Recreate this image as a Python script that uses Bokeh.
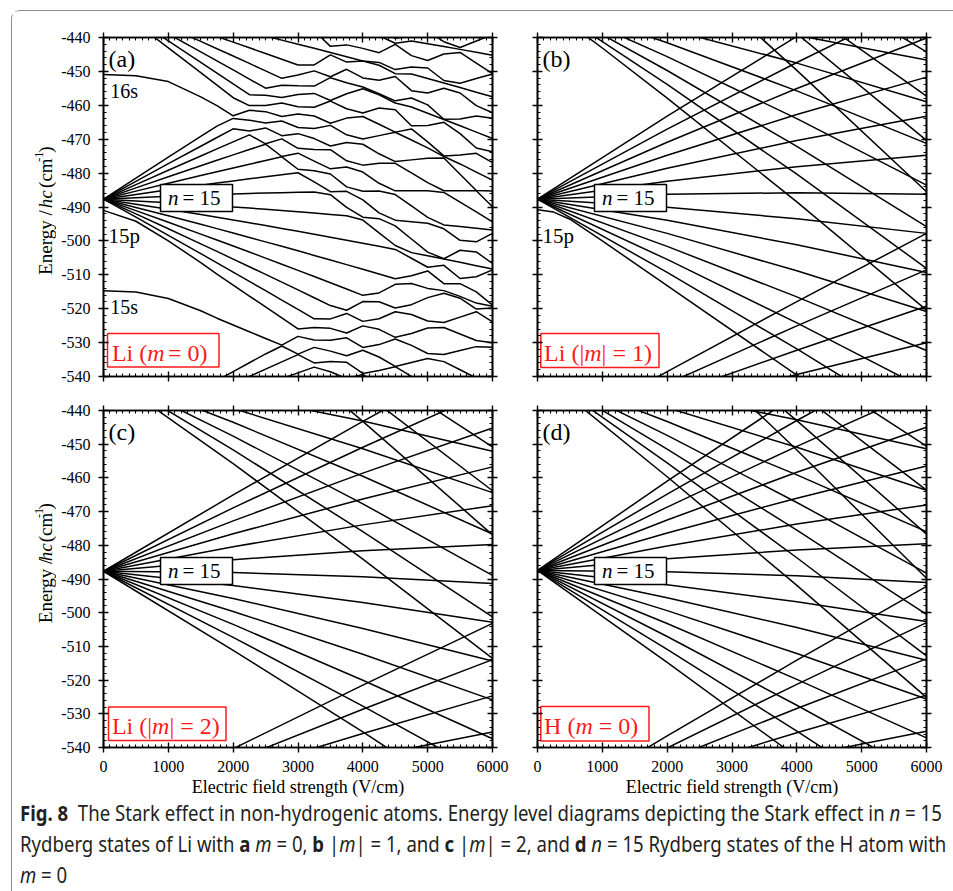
import math
from bokeh.plotting import figure
from bokeh.layouts import column, row
from bokeh.models import FixedTicker, LinearAxis, Range1d, Label, Div
from bokeh.embed import file_html
from bokeh.resources import INLINE

# ---------------------------------------------------------------- axes
field_ticks = [0, 1000, 2000, 3000, 4000, 5000, 6000]
energy_ticks = [-540, -530, -520, -510, -500, -490, -480, -470, -460, -450, -440]

# ------------------------------------------------ (a) Li, m = 0 (adiabatic levels)
li_m0_field = [0, 500, 1000, 1500, 1750, 2000, 2250, 2500, 2750, 3000, 3250,
               3500, 3750, 4000, 4250, 4500, 4750, 5000, 5250, 5500, 5750, 6000]

# levels coming down from n = 16 / n = 17, plus 16s
li_m0_upper = [
    [-379.7, -387.4, -395.1, -402.9, -406.86, -410.82, -414.79, -418.79, -422.81, -426.85, -430.91, -434.99, -437.97, -438.71, -438.10, -440.25, -439.60, -438.12, -441.25, -442.94, -441.04, -439.15],
    [-379.7, -388.5, -397.3, -406.3, -410.67, -415.17, -419.69, -424.24, -428.8, -433.38, -436.53, -437.24, -439.09, -439.23, -439.48, -441.71, -441.04, -441.84, -442.67, -443.50, -444.35, -445.21],
    [-428.6, -429.65, -430.77, -431.94, -432.55, -433.18, -433.82, -434.47, -435.14, -435.83, -437.99, -442.61, -442.18, -443.21, -444.47, -442.02, -445.35, -446.79, -444.87, -444.40, -447.57, -450.68],
    [-428.6, -430.68, -432.82, -435.02, -436.14, -437.27, -438.43, -439.59, -440.78, -441.97, -443.19, -444.41, -445.65, -446.91, -447.35, -449.47, -448.73, -449.0, -452.68, -453.51, -452.09, -450.76],
    [-428.6, -431.7, -434.87, -438.09, -439.73, -441.37, -443.04, -444.71, -446.41, -448.12, -448.10, -445.14, -447.25, -446.92, -448.18, -450.67, -450.77, -452.09, -453.42, -454.76, -456.13, -457.50],
    [-428.6, -432.73, -436.91, -441.16, -443.31, -445.47, -447.65, -449.84, -452.04, -451.08, -449.84, -451.58, -449.38, -451.92, -452.63, -451.51, -455.69, -456.39, -454.95, -456.37, -460.09, -462.20],
    [-428.6, -433.75, -438.96, -444.24, -446.90, -449.57, -452.26, -454.96, -454.07, -454.26, -454.34, -451.86, -453.34, -454.60, -456.6, -458.69, -457.85, -459.89, -464.11, -464.07, -463.13, -463.82],
    [-428.6, -434.78, -441.01, -447.31, -450.48, -453.66, -456.87, -457.07, -457.68, -456.84, -456.50, -458.58, -456.58, -455.10, -456.89, -459.31, -460.50, -462.33, -464.18, -466.03, -467.91, -469.79],
    [-428.6, -435.8, -443.06, -450.38, -454.07, -457.76, -460.08, -460.08, -459.35, -460.41, -460.58, -458.75, -461.02, -462.28, -460.79, -461.3, -466.03, -465.99, -465.03, -468.35, -472.61, -473.72],
    [-450.9, -451.3, -453.0, -457.5, -460.1, -463.10, -461.48, -461.87, -463.31, -462.60, -463.16, -465.30, -463.78, -463.30, -465.60, -467.91, -466.97, -470.77, -474.93, -474.63, -474.17, -476.89],
]

# the n = 15 fan
li_m0_fan = [
    [-487.7, -481.48, -475.31, -469.18, -466.13, -463.86, -464.40, -465.2, -464.63, -466.55, -466.82, -465.92, -468.70, -469.96, -468.95, -467.95, -470.23, -472.57, -475.12, -477.30, -479.69, -482.09],
    [-487.7, -482.44, -477.23, -472.07, -469.49, -466.94, -467.61, -466.67, -468.95, -468.36, -469.82, -472.02, -470.98, -471.49, -474.30, -476.60, -476.10, -475.60, -475.54, -480.32, -485.12, -485.25],
    [-487.7, -483.40, -479.15, -474.95, -472.86, -470.78, -468.72, -471.36, -469.91, -472.70, -473.06, -473.09, -476.38, -477.65, -477.12, -477.12, -479.96, -482.82, -485.20, -485.20, -485.22, -489.95],
    [-487.7, -484.36, -481.07, -477.83, -476.22, -474.63, -473.05, -471.47, -475.11, -474.13, -476.48, -478.75, -478.19, -479.69, -483.01, -485.24, -485.22, -485.20, -485.69, -488.57, -491.47, -494.38],
    [-487.7, -485.32, -482.99, -480.71, -479.58, -478.47, -477.37, -476.28, -475.20, -478.86, -479.31, -480.26, -484.07, -485.33, -485.28, -486.34, -489.69, -493.06, -495.28, -495.76, -496.26, -496.77],
    [-487.7, -486.28, -484.91, -483.59, -482.94, -482.31, -481.69, -481.08, -480.48, -479.89, -482.61, -485.47, -485.39, -487.88, -491.72, -493.88, -494.34, -494.80, -496.44, -499.83, -500.27, -497.79],
    [-487.7, -487.24, -486.83, -486.47, -486.30, -486.15, -486.01, -485.88, -485.76, -485.65, -485.55, -486.36, -490.11, -493.01, -493.44, -495.56, -499.43, -503.30, -505.26, -502.76, -503.25, -506.67],
    [-487.7, -488.2, -488.75, -489.35, -489.66, -489.99, -490.33, -490.68, -491.04, -491.41, -491.79, -492.19, -492.59, -493.86, -497.61, -501.36, -503.46, -504.40, -505.36, -506.33, -507.31, -508.30],
    [-487.7, -489.16, -490.67, -492.23, -493.02, -493.83, -494.65, -495.48, -496.32, -497.17, -498.03, -498.91, -499.79, -500.69, -501.60, -502.52, -505.11, -507.77, -507.20, -511.10, -510.57, -508.54],
    [-487.7, -490.12, -492.59, -495.11, -496.38, -497.67, -498.97, -500.28, -501.60, -502.93, -504.28, -505.64, -507.0, -508.38, -509.77, -511.17, -510.29, -508.86, -512.61, -512.62, -515.03, -518.96],
    [-487.7, -491.08, -494.51, -497.99, -499.74, -501.51, -503.29, -505.09, -506.89, -508.70, -510.52, -512.36, -514.20, -516.06, -515.35, -512.82, -512.59, -514.01, -514.67, -516.36, -518.35, -519.30],
    [-487.7, -492.04, -496.43, -500.87, -503.10, -505.36, -507.62, -509.89, -512.17, -514.46, -516.76, -519.08, -520.45, -517.90, -517.93, -519.81, -518.81, -516.74, -515.45, -516.89, -520.11, -519.82],
    [-487.7, -493.0, -498.35, -503.75, -506.47, -509.2, -511.94, -514.69, -517.45, -520.22, -523.0, -523.01, -521.40, -523.74, -522.97, -520.89, -521.71, -523.61, -524.09, -522.48, -520.88, -523.86],
]

# 15p, 15s and the levels coming up from n = 14
li_m0_lower = [
    [-491.0, -494.2, -500.0, -506.4, -509.83, -513.04, -516.26, -519.49, -522.73, -525.98, -525.58, -525.80, -527.17, -525.07, -526.09, -528.45, -527.32, -525.70, -525.53, -527.45, -529.39, -530.05],
    [-514.7, -515.1, -517.0, -520.6, -522.8, -524.8, -526.8, -528.8, -530.75, -528.16, -529.24, -529.29, -528.60, -531.42, -530.59, -528.95, -530.83, -533.21, -533.5, -532.34, -531.19, -531.34],
    [-559.8, -554.4, -549.1, -543.8, -541.19, -538.57, -535.95, -533.35, -531.0, -533.4, -531.41, -532.52, -533.89, -532.24, -534.25, -537.02, -535.84, -534.66, -535.61, -538.02, -540.44, -542.87],
    [-559.8, -555.3, -550.9, -546.5, -544.33, -542.15, -539.98, -537.83, -535.68, -533.54, -536.0, -535.56, -535.80, -539.11, -538.2, -537.10, -539.96, -542.82, -545.70, -548.58, -551.5, -554.4],
    [-559.8, -556.2, -552.7, -549.2, -547.46, -545.74, -544.02, -542.31, -540.61, -538.92, -537.24, -538.6, -540.61, -539.41, -542.42, -545.74, -549.08, -552.42, -555.8, -559.2, -562.5, -565.9],
]

# ------------------------------------------- (b)-(d): Stark levels vs field
stark_field = [0, 2000, 4000, 6000]

li_m1_n15 = [
    [-487.7, -463.21, -439.68, -417.12], [-487.7, -467.05, -447.37, -428.64],
    [-487.7, -470.89, -455.05, -440.16], [-487.7, -474.74, -462.73, -451.69],
    [-487.7, -478.58, -470.41, -463.21], [-487.7, -482.42, -478.10, -474.73],
    [-487.7, -486.26, -485.78, -486.26], [-487.7, -490.10, -493.46, -497.78],
    [-487.7, -493.94, -501.14, -509.31], [-487.7, -497.78, -508.83, -520.83],
    [-487.7, -501.62, -516.51, -532.35], [-487.7, -505.47, -524.19, -543.88],
    [-487.7, -509.31, -531.87, -555.40],
]
li_m1_n16 = [
    [-428.6, -433.34, -439.35, -446.65], [-428.6, -437.43, -447.55, -458.94],
    [-428.6, -441.53, -455.74, -471.23], [-428.6, -445.63, -463.94, -483.53],
    [-428.6, -449.73, -472.13, -495.82], [-428.6, -453.82, -480.33, -508.11],
]
li_m1_n17 = [
    [-379.7, -399.93, -421.44, -444.23], [-379.7, -404.28, -430.15, -457.29],
    [-379.7, -408.64, -438.86, -470.36], [-381.8, -415.1, -449.7, -485.5],
]
li_m1_n14 = [
    [-559.8, -538.57, -517.90, -497.79], [-559.8, -542.15, -525.07, -508.54],
    [-559.8, -545.74, -532.24, -519.30], [-559.8, -549.32, -539.41, -530.05],
]
li_m1_15p_field = [0, 250, 500, 1000, 2000, 4000, 6000]
li_m1_15p_energy = [-490.8, -491.5, -493.6, -500.0, -513.2, -539.6, -566.9]
li_m1_16p_field = [0, 500, 1000, 2000, 4000, 6000]
li_m1_16p_energy = [-431.2, -436.0, -443.1, -457.9, -488.5, -520.4]

li_m2_n15 = [
    [-487.7, -465.05, -443.21, -422.16], [-487.7, -468.89, -450.89, -433.68],
    [-487.7, -472.74, -458.57, -445.21], [-487.7, -476.58, -466.25, -456.73],
    [-487.7, -480.42, -473.94, -468.25], [-487.7, -484.26, -481.62, -479.78],
    [-487.7, -488.10, -489.30, -491.30], [-487.7, -491.94, -496.98, -502.82],
    [-487.7, -495.78, -504.66, -514.35], [-487.7, -499.62, -512.35, -525.87],
    [-487.7, -503.46, -520.03, -537.39], [-487.7, -507.31, -527.71, -548.92],
    [-487.7, -511.15, -535.39, -560.44],
]
li_m2_n16 = [
    [-428.6, -455.79, -484.10, -513.54], [-428.6, -451.69, -475.91, -501.24],
    [-428.6, -447.60, -467.71, -488.95], [-428.6, -443.50, -459.52, -476.66],
    [-428.6, -439.40, -451.33, -464.37], [-428.6, -435.31, -443.13, -452.08],
]
li_m2_n17 = [
    [-379.7, -410.82, -443.21, -476.89], [-379.7, -406.46, -434.50, -463.82],
    [-379.7, -402.11, -425.80, -450.76],
]
li_m2_n14 = [
    [-559.8, -540.36, -521.48, -503.16], [-559.8, -543.95, -528.65, -513.92],
    [-559.8, -547.53, -535.82, -524.68], [-559.8, -551.12, -542.99, -535.43],
]

h_m0_n15 = [
    [-487.46, -460.97, -435.28, -410.39], [-487.46, -464.81, -442.97, -421.92],
    [-487.46, -468.65, -450.65, -433.44], [-487.46, -472.50, -458.33, -444.97],
    [-487.46, -476.34, -466.01, -456.49], [-487.46, -480.18, -473.70, -468.01],
    [-487.46, -484.02, -481.38, -479.54], [-487.46, -487.86, -489.06, -491.06],
    [-487.46, -491.70, -496.74, -502.58], [-487.46, -495.54, -504.42, -514.11],
    [-487.46, -499.38, -512.11, -525.63], [-487.46, -503.22, -519.79, -537.15],
    [-487.46, -507.07, -527.47, -548.68], [-487.46, -510.91, -535.15, -560.20],
    [-487.46, -514.75, -542.83, -571.73],
]
h_m0_n16 = [
    [-428.43, -459.66, -491.89, -525.12], [-428.43, -455.56, -483.69, -512.83],
    [-428.43, -451.46, -475.50, -500.53], [-428.43, -447.37, -467.30, -488.24],
    [-428.43, -443.27, -459.11, -475.95], [-428.43, -439.17, -450.92, -463.66],
    [-428.43, -435.08, -442.72, -451.37],
]
h_m0_n17 = [
    [-379.51, -414.98, -451.73, -489.76], [-379.51, -410.63, -443.02, -476.70],
    [-379.51, -406.27, -434.31, -463.63], [-379.51, -401.92, -425.61, -450.57],
]
h_m0_n14 = [
    [-559.58, -536.56, -514.09, -492.19], [-559.58, -540.14, -521.26, -502.94],
    [-559.58, -543.73, -528.43, -513.70], [-559.58, -547.31, -535.60, -524.46],
    [-559.58, -550.90, -542.77, -535.21],
]

# ---------------------------------------------------------------- drawing
SERIF = "Liberation Serif"
FRAME_W = 389
RED = "#ff1a1a"
LIFT = 7      # px: baseline correction for annotation text
STRIP_W = 44  # width of the strip that carries the energy-axis title


def style_axis(ax, ticks, minor, labelled):
    ax.ticker = FixedTicker(ticks=ticks, minor_ticks=minor)
    ax.axis_line_width = 1.6
    ax.axis_line_color = "black"
    ax.major_tick_line_width = 1.4
    ax.minor_tick_line_width = 1.1
    ax.major_tick_line_color = "black"
    ax.minor_tick_line_color = "black"
    ax.major_tick_in = 5
    ax.major_tick_out = 5
    ax.minor_tick_in = 3
    ax.minor_tick_out = 0
    ax.major_label_text_font = SERIF
    ax.major_label_text_color = "black"
    if labelled:
        ax.major_label_overrides = {t: str(t) for t in ticks}
        ax.major_label_text_font_size = "16px"
        ax.major_label_standoff = 8
    else:
        ax.major_label_overrides = {t: "" for t in ticks}
        ax.major_label_text_font_size = "1px"
        ax.major_label_standoff = 0


def panel(frame_h, left, right, top, bottom, xlabels, ylabels):
    p = figure(frame_width=FRAME_W, frame_height=frame_h,
               x_range=Range1d(0, 6000), y_range=Range1d(-540, -440),
               output_backend="svg", toolbar_location=None,
               min_border_left=left, min_border_right=right,
               min_border_top=top, min_border_bottom=bottom)
    p.xgrid.visible = False
    p.ygrid.visible = False
    p.outline_line_color = "black"
    p.outline_line_width = 1.6
    x_minor = [v for v in range(0, 6001, 100) if v % 1000]
    y_minor = [v for v in range(-540, -439, 2) if v % 10]
    style_axis(p.xaxis[0], field_ticks, x_minor, xlabels)
    style_axis(p.yaxis[0], energy_ticks, y_minor, ylabels)
    if xlabels:
        ax = p.xaxis[0]
        ax.axis_label = "Electric field strength (V/cm)"
        ax.axis_label_text_font = SERIF
        ax.axis_label_text_font_style = "normal"
        ax.axis_label_text_font_size = "18px"
        ax.axis_label_text_color = "black"
        ax.axis_label_standoff = 2
    top_ax = LinearAxis()
    style_axis(top_ax, field_ticks, x_minor, False)
    p.add_layout(top_ax, "above")
    right_ax = LinearAxis()
    style_axis(right_ax, energy_ticks, y_minor, False)
    p.add_layout(right_ax, "right")
    return p


def draw_levels(p, field, levels):
    p.multi_line([field] * len(levels), levels, line_color="black",
                 line_width=1.5, line_join="round")


def px(frame_h, rx, ry):
    """Pixel offset inside the frame -> data coordinates."""
    return rx * 6000.0 / FRAME_W, -440.0 - ry * 100.0 / frame_h


def text(p, frame_h, rx, ry, s, size, color="black", style="normal"):
    x, y = px(frame_h, rx, ry - LIFT)
    p.add_layout(Label(x=x, y=y, text=s, text_font=SERIF, text_font_size=size,
                       text_font_style=style, text_color=color,
                       text_align="left", text_baseline="alphabetic"))


def box(p, frame_h, rx0, ry0, rx1, ry1, color):
    x0, y0 = px(frame_h, rx0, ry0)
    x1, y1 = px(frame_h, rx1, ry1)
    p.quad(left=[x0], right=[x1], top=[y0], bottom=[y1],
           fill_color="white", line_color=color, line_width=1.5)


def title_strip(height, centre_from_top):
    """Narrow canvas holding the upright 'Energy / hc (cm-1)' title."""
    s = figure(width=STRIP_W, height=height, x_range=Range1d(0, STRIP_W),
               y_range=Range1d(0, height), output_backend="svg",
               toolbar_location=None, min_border=0)
    s.axis.visible = False
    s.grid.visible = False
    s.outline_line_color = None
    bx = 33.0
    y0 = height - centre_from_top - 72.0
    half = math.pi / 2
    pieces = [(bx, 0.0, "Energy /", "19px", "normal"),
              (bx, 75.0, "hc", "19px", "italic"),
              (bx, 98.0, "(cm", "19px", "normal"),
              (bx - 7, 127.5, "-1", "12px", "normal"),
              (bx, 137.5, ")", "19px", "normal")]
    for x, dy, t, size, style in pieces:
        s.add_layout(Label(x=x, y=y0 + dy, text=t, text_font=SERIF,
                           text_font_size=size, text_font_style=style,
                           text_color="black", angle=half,
                           text_align="left", text_baseline="alphabetic"))
    return s


def n15_box(p, frame_h):
    box(p, frame_h, 57, 147, 129, 174, "black")
    text(p, frame_h, 64.5, 167.5, "n", "21px", style="italic")
    text(p, frame_h, 79, 167.5, "= 15", "21px")


def letter(p, frame_h, s):
    text(p, frame_h, 5, 28, s, "24px")


TOP_H, BOT_H = 339, 337

fa = panel(TOP_H, 91 - STRIP_W, 22, 26, 17, False, True)
draw_levels(fa, li_m0_field, li_m0_upper)
draw_levels(fa, li_m0_field, li_m0_fan)
draw_levels(fa, li_m0_field, li_m0_lower)
letter(fa, TOP_H, "(a)")
text(fa, TOP_H, 6.7, 60.7, "16s", "20px")
text(fa, TOP_H, 5, 205.4, "15p", "21px")
text(fa, TOP_H, 6.7, 276, "15s", "20px")
n15_box(fa, TOP_H)
box(fa, TOP_H, 4, 296, 115.5, 329.5, RED)
text(fa, TOP_H, 8.4, 322, "Li (", "24px", RED)
text(fa, TOP_H, 43.7, 322, "m", "24px", RED, "italic")
text(fa, TOP_H, 64.5, 322, "= 0)", "24px", RED)

fb = panel(TOP_H, 23, 27, 26, 17, False, False)
for grp in (li_m1_n15, li_m1_n16, li_m1_n17, li_m1_n14):
    draw_levels(fb, stark_field, grp)
fb.line(li_m1_15p_field, li_m1_15p_energy, line_color="black", line_width=1.5)
fb.line(li_m1_16p_field, li_m1_16p_energy, line_color="black", line_width=1.5)
letter(fb, TOP_H, "(b)")
text(fb, TOP_H, 5, 205.4, "15p", "21px")
n15_box(fb, TOP_H)
box(fb, TOP_H, 3.3, 296, 121.5, 330, RED)
text(fb, TOP_H, 6.6, 322, "Li (|", "24px", RED)
text(fb, TOP_H, 46.7, 322, "m", "24px", RED, "italic")
text(fb, TOP_H, 64.1, 322, "| = 1)", "24px", RED)

fc = panel(BOT_H, 91 - STRIP_W, 22, 17, 54, True, True)
for grp in (li_m2_n15, li_m2_n16, li_m2_n17, li_m2_n14):
    draw_levels(fc, stark_field, grp)
letter(fc, BOT_H, "(c)")
n15_box(fc, BOT_H)
box(fc, BOT_H, 5, 296.5, 122.5, 330, RED)
text(fc, BOT_H, 8.4, 322, "Li (|", "24px", RED)
text(fc, BOT_H, 48.5, 322, "m", "24px", RED, "italic")
text(fc, BOT_H, 65.9, 322, "| = 2)", "24px", RED)

fd = panel(BOT_H, 23, 27, 17, 54, True, False)
for grp in (h_m0_n15, h_m0_n16, h_m0_n17, h_m0_n14):
    draw_levels(fd, stark_field, grp)
letter(fd, BOT_H, "(d)")
n15_box(fd, BOT_H)
box(fd, BOT_H, 3.3, 296, 111.5, 330.5, RED)
text(fd, BOT_H, 6.6, 322, "H (", "24px", RED)
text(fd, BOT_H, 37.9, 322, "m", "24px", RED, "italic")
text(fd, BOT_H, 61.3, 322, "= 0)", "24px", RED)

strip_top = title_strip(26 + TOP_H + 17, 26 + TOP_H / 2.0)
strip_bot = title_strip(17 + BOT_H + 54, 17 + BOT_H / 2.0)

caption_html = (
    '<div style="font-family:\'Noto Sans\',sans-serif;font-size:21px;line-height:31px;'
    'color:#231f20;margin:-3px 0 0 8px;white-space:nowrap;">'
    '<span style="display:inline-block;transform:scaleX(0.885);transform-origin:0 0;">'
    '<b>Fig. 8</b>&nbsp; The Stark effect in non-hydrogenic atoms. Energy level diagrams '
    'depicting the Stark effect in <i>n</i> = 15<br>'
    'Rydberg states of Li with <b>a</b> <i>m</i> = 0, <b>b</b> |<i>m</i>| = 1, and '
    '<b>c</b> |<i>m</i>| = 2, and <b>d</b> <i>n</i> = 15 Rydberg states of the H atom with<br>'
    '<i>m</i> = 0</span></div>'
)
caption = Div(text=caption_html, width=941, height=90, margin=(0, 0, 0, 0))

page = column(row(strip_top, fa, fb), row(strip_bot, fc, fd), caption,
              styles={"border-top": "1px solid #8c8c8c",
                      "border-left": "1px solid #8c8c8c",
                      "border-top-left-radius": "9px",
                      "margin-left": "11px", "margin-top": "10px"})

open("out.html", "w").write(file_html(page, INLINE))
